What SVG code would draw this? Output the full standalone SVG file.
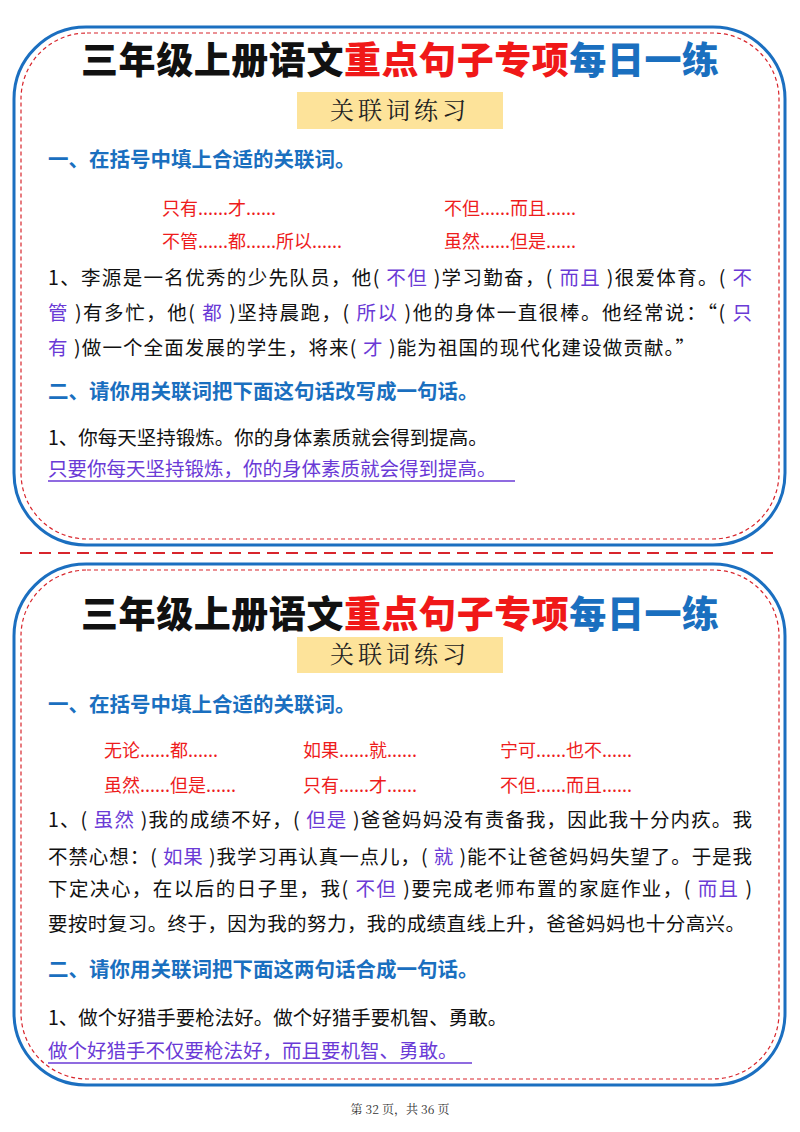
<svg xmlns="http://www.w3.org/2000/svg" width="800" height="1132" viewBox="0 0 800 1132">
<style>
.f{font-family:"Noto Sans CJK SC","Liberation Sans",sans-serif}
.title{font-size:37px;font-weight:900}
.sub{font-size:24px;font-family:"Noto Serif CJK SC","Noto Sans CJK SC",serif;fill:#222}
.sec{font-size:20.5px;font-weight:bold;fill:#1a6fbf}
.red{font-size:18px;fill:#ee1c1c}
.body{font-size:19.5px;fill:#111}
.ans{fill:#6a3ad6}
.outer{fill:#fff;stroke:#1b6fc0;stroke-width:3}
.inner{fill:none;stroke:#d8252c;stroke-width:1.2;stroke-dasharray:4 3}
</style>
<rect width="800" height="1132" fill="#fff"/>
<g id="card1" class="f">
<rect class="outer" x="14" y="27" width="771" height="518" rx="72"/>
<rect class="inner" x="21" y="33" width="758" height="506" rx="66"/>
<text class="title" x="400" y="74" text-anchor="middle" textLength="638"><tspan fill="#111">三年级上册语文</tspan><tspan fill="#f01818">重点句子专项</tspan><tspan fill="#1a6fbf">每日一练</tspan></text>
<rect x="297" y="92" width="206" height="37" fill="#fde39a"/>
<text class="sub" x="400" y="119" text-anchor="middle" letter-spacing="4">关联词练习</text>
<text class="sec" x="48" y="167">一、在括号中填上合适的关联词。</text>
<text class="red" x="162" y="215">只有......才......</text>
<text class="red" x="444" y="215">不但......而且......</text>
<text class="red" x="162" y="248">不管......都......所以......</text>
<text class="red" x="444" y="248">虽然......但是......</text>
<text class="body" x="48" y="285" textLength="704">1、李源是一名优秀的少先队员，他( <tspan class="ans">不但</tspan> )学习勤奋，( <tspan class="ans">而且</tspan> )很爱体育。( <tspan class="ans">不</tspan></text>
<text class="body" x="48" y="320" textLength="704"><tspan class="ans">管</tspan> )有多忙，他( <tspan class="ans">都</tspan> )坚持晨跑，( <tspan class="ans">所以</tspan> )他的身体一直很棒。他经常说：“( <tspan class="ans">只</tspan></text>
<text class="body" x="48" y="355" textLength="647"><tspan class="ans">有</tspan> )做一个全面发展的学生，将来( <tspan class="ans">才</tspan> )能为祖国的现代化建设做贡献。”</text>
<text class="sec" x="48" y="399">二、请你用关联词把下面这句话改写成一句话。</text>
<text class="body" x="48" y="445">1、你每天坚持锻炼。你的身体素质就会得到提高。</text>
<text class="body ans" x="48" y="476">只要你每天坚持锻炼，你的身体素质就会得到提高。</text>
<line x1="48" y1="481" x2="515" y2="481" stroke="#6a3ad6" stroke-width="1.5"/>
</g>
<g id="divider">
<line x1="20" y1="553" x2="778" y2="553" stroke="#d8252c" stroke-width="2" stroke-dasharray="12 7"/>
</g>
<g id="card2" class="f">
<rect class="outer" x="14" y="564" width="771" height="521" rx="72"/>
<rect class="inner" x="21" y="570" width="758" height="509" rx="66"/>
<text class="title" x="400" y="628" text-anchor="middle" textLength="638"><tspan fill="#111">三年级上册语文</tspan><tspan fill="#f01818">重点句子专项</tspan><tspan fill="#1a6fbf">每日一练</tspan></text>
<rect x="297" y="637" width="206" height="36" fill="#fde39a"/>
<text class="sub" x="400" y="663" text-anchor="middle" letter-spacing="4">关联词练习</text>
<text class="sec" x="48" y="712">一、在括号中填上合适的关联词。</text>
<text class="red" x="104" y="757">无论......都......</text>
<text class="red" x="303" y="757">如果......就......</text>
<text class="red" x="500" y="757">宁可......也不......</text>
<text class="red" x="104" y="792">虽然......但是......</text>
<text class="red" x="303" y="792">只有......才......</text>
<text class="red" x="500" y="792">不但......而且......</text>
<text class="body" x="48" y="827" textLength="704">1、( <tspan class="ans">虽然</tspan> )我的成绩不好，( <tspan class="ans">但是</tspan> )爸爸妈妈没有责备我，因此我十分内疚。我</text>
<text class="body" x="48" y="864" textLength="704">不禁心想：( <tspan class="ans">如果</tspan> )我学习再认真一点儿，( <tspan class="ans">就</tspan> )能不让爸爸妈妈失望了。于是我</text>
<text class="body" x="48" y="896" textLength="704">下定决心，在以后的日子里，我( <tspan class="ans">不但</tspan> )要完成老师布置的家庭作业，( <tspan class="ans">而且</tspan> )</text>
<text class="body" x="48" y="931" textLength="697">要按时复习。终于，因为我的努力，我的成绩直线上升，爸爸妈妈也十分高兴。</text>
<text class="sec" x="48" y="977">二、请你用关联词把下面这两句话合成一句话。</text>
<text class="body" x="48" y="1025">1、做个好猎手要枪法好。做个好猎手要机智、勇敢。</text>
<text class="body ans" x="48" y="1058">做个好猎手不仅要枪法好，而且要机智、勇敢。</text>
<line x1="48" y1="1063" x2="472" y2="1063" stroke="#6a3ad6" stroke-width="1.5"/>
</g>
<text x="400" y="1114" text-anchor="middle" font-family="Noto Serif CJK SC,Liberation Serif,serif" font-size="12" fill="#333" xml:space="preserve">第 32 页，共 36 页</text>
</svg>
